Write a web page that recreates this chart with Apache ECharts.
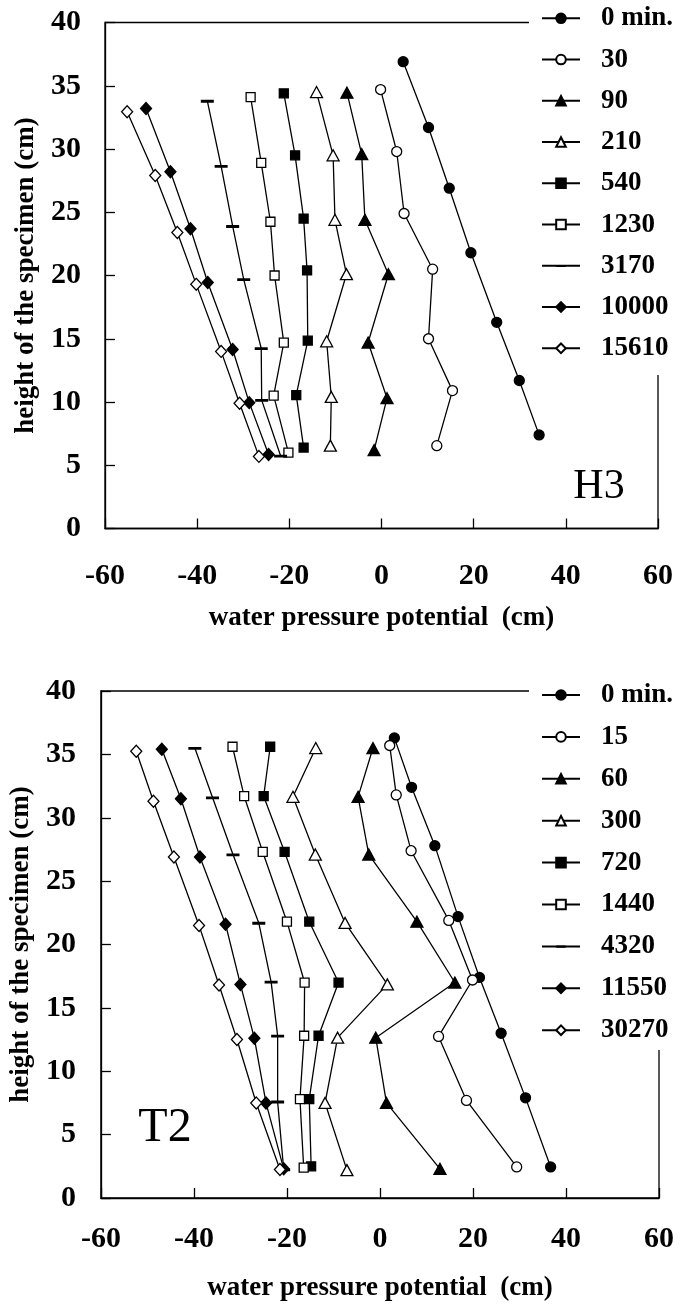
<!DOCTYPE html>
<html>
<head>
<meta charset="utf-8">
<title>Water pressure potential profiles</title>
<script src="https://cdn.jsdelivr.net/npm/echarts@6/dist/echarts.min.js"></script>
<style>
  html, body { margin: 0; padding: 0; background: #fff; }
  #chart { width: 682px; height: 1308px; }
</style>
</head>
<body>
<div id="chart"></div>
<script>
// Axis ranges shared by both panels
const xRange = { min: -60, max: 60, step: 20 };
const yRange = { min: 0, max: 40, step: 5 };
const xTitle = 'water pressure potential  (cm)';
const yTitle = 'height of the specimen (cm)';

// Specimen H3: elapsed time labels and [pressure potential, height] readings
const h3Names = ['0 min.', '30', '90', '210', '540', '1230', '3170', '10000', '15610'];
const h3_0 = [[4.7, 36.9], [10.2, 31.7], [14.7, 26.9], [19.4, 21.8], [25.0, 16.3], [29.9, 11.7], [34.2, 7.4]];
const h3_30 = [[-0.2, 34.7], [3.3, 29.8], [4.9, 24.9], [11.1, 20.5], [10.2, 15.0], [15.4, 10.9], [12.0, 6.55]];
const h3_90 = [[-7.5, 34.45], [-4.3, 29.6], [-3.6, 24.4], [1.5, 20.1], [-2.9, 14.7], [1.2, 10.3], [-1.6, 6.2]];
const h3_210 = [[-14.1, 34.5], [-10.5, 29.5], [-10.1, 24.4], [-7.6, 20.1], [-11.9, 14.8], [-10.9, 10.4], [-11.1, 6.55]];
const h3_540 = [[-21.2, 34.4], [-18.75, 29.5], [-16.9, 24.5], [-16.15, 20.4], [-16.0, 14.85], [-18.5, 10.55], [-16.9, 6.4]];
const h3_1230 = [[-28.4, 34.1], [-26.1, 28.9], [-24.1, 24.25], [-23.2, 20.0], [-21.2, 14.7], [-23.4, 10.5], [-20.2, 6.0]];
const h3_3170 = [[-37.8, 33.8], [-34.8, 28.65], [-32.3, 23.9], [-29.9, 19.7], [-26.1, 14.25], [-26.0, 10.15], [-21.9, 5.75]];
const h3_10000 = [[-51.1, 33.2], [-45.8, 28.2], [-41.45, 23.7], [-37.7, 19.45], [-32.3, 14.15], [-28.7, 9.95], [-24.5, 5.85]];
const h3_15610 = [[-55.2, 32.95], [-49.1, 27.9], [-44.3, 23.4], [-40.2, 19.3], [-34.8, 14.0], [-30.8, 9.9], [-26.6, 5.7]];

// Specimen T2
const t2Names = ['0 min.', '15', '60', '300', '720', '1440', '4320', '11550', '30270'];
const t2_0 = [[3.1, 36.3], [6.8, 32.4], [11.8, 27.8], [16.8, 22.2], [21.4, 17.4], [26.05, 13.0], [31.3, 7.9], [36.7, 2.45]];
const t2_15 = [[2.1, 35.7], [3.5, 31.8], [6.7, 27.4], [14.8, 21.9], [19.9, 17.2], [12.6, 12.75], [18.6, 7.7], [29.4, 2.45]];
const t2_60 = [[-1.5, 35.5], [-4.7, 31.65], [-2.4, 27.1], [7.95, 21.8], [16.1, 17.0], [-0.9, 12.65], [1.4, 7.5], [12.9, 2.3]];
const t2_300 = [[-13.8, 35.5], [-18.7, 31.65], [-13.9, 27.1], [-7.5, 21.7], [1.6, 16.85], [-9.1, 12.65], [-11.8, 7.5], [-7.1, 2.2]];
const t2_720 = [[-23.6, 35.6], [-25.0, 31.7], [-20.5, 27.3], [-15.2, 21.8], [-8.9, 17.0], [-13.2, 12.8], [-15.2, 7.8], [-14.8, 2.5]];
const t2_1440 = [[-31.7, 35.6], [-29.2, 31.7], [-25.2, 27.3], [-20.0, 21.8], [-16.2, 17.0], [-16.3, 12.8], [-17.2, 7.8], [-16.4, 2.4]];
const t2_4320 = [[-39.8, 35.5], [-36.0, 31.6], [-31.6, 27.1], [-26.05, 21.7], [-23.4, 17.05], [-22.0, 12.8], [-22.0, 7.6], [-20.7, 2.25]];
const t2_11550 = [[-46.9, 35.4], [-42.8, 31.5], [-38.7, 26.9], [-33.2, 21.6], [-30.0, 16.85], [-27.0, 12.6], [-24.5, 7.5], [-20.7, 2.3]];
const t2_30270 = [[-52.4, 35.25], [-48.7, 31.3], [-44.3, 26.9], [-38.9, 21.5], [-34.6, 16.8], [-30.75, 12.5], [-26.6, 7.5], [-21.5, 2.25]];

const h3Data = [h3_0, h3_30, h3_90, h3_210, h3_540, h3_1230, h3_3170, h3_10000, h3_15610];
const t2Data = [t2_0, t2_15, t2_60, t2_300, t2_720, t2_1440, t2_4320, t2_11550, t2_30270];

// Marker styles, in legend order: filled/open circle, triangle, square, dash, diamond
const DASH = 'path://M0,0L0,0.01M0,5L12,5L12,7.6L0,7.6ZM12,12L12,11.99';
const markers = [
  { symbol: 'circle', size: 10, fill: '#000' },
  { symbol: 'circle', size: 10, fill: '#fff' },
  { symbol: 'triangle', size: [12, 11], fill: '#000' },
  { symbol: 'triangle', size: [12, 11], fill: '#fff' },
  { symbol: 'rect', size: 9, fill: '#000' },
  { symbol: 'rect', size: 9, fill: '#fff' },
  { symbol: DASH, size: 13, fill: '#000', dash: true },
  { symbol: 'diamond', size: [11, 12], fill: '#000' },
  { symbol: 'diamond', size: [11, 12], fill: '#fff' }
];

const FONT = 'Liberation Serif';
const INK = '#000';

function xAxisFor(gridIndex, labelMargin, nameGap) {
  return {
    gridIndex, type: 'value', min: xRange.min, max: xRange.max, interval: xRange.step,
    axisLine: { show: true, onZero: false, lineStyle: { color: INK, width: 1.3 } },
    axisTick: { show: true, inside: true, length: 10, lineStyle: { color: INK, width: 1.3 } },
    splitLine: { show: false },
    axisLabel: { margin: labelMargin, color: INK, fontSize: 30, fontFamily: FONT, fontWeight: 'bold' },
    name: xTitle, nameLocation: 'middle', nameGap,
    nameTextStyle: { color: INK, fontSize: 27, fontFamily: FONT, fontWeight: 'bold' }
  };
}

function yAxisFor(gridIndex, labelMargin, nameGap) {
  return {
    gridIndex, type: 'value', min: yRange.min, max: yRange.max, interval: yRange.step,
    axisLine: { show: true, onZero: false, lineStyle: { color: INK, width: 1.3 } },
    axisTick: { show: true, inside: true, length: 10, lineStyle: { color: INK, width: 1.3 } },
    splitLine: { show: false },
    axisLabel: { margin: labelMargin, color: INK, fontSize: 30, fontFamily: FONT, fontWeight: 'bold' },
    name: yTitle, nameLocation: 'middle', nameGap,
    nameTextStyle: { color: INK, fontSize: 27, fontFamily: FONT, fontWeight: 'bold' }
  };
}

function seriesFor(names, dataSets, axisIndex) {
  return names.map((name, i) => {
    const m = markers[i];
    return {
      type: 'line', name, xAxisIndex: axisIndex, yAxisIndex: axisIndex,
      data: dataSets[i],
      symbol: m.symbol, symbolSize: m.size,
      showAllSymbol: true,
      lineStyle: { color: INK, width: 1.3 },
      itemStyle: { color: m.fill, borderColor: INK, borderWidth: m.dash ? 0 : 1.3 },
      emphasis: { disabled: true },
      z: 2
    };
  });
}

function legendFor(names, top, gap) {
  return {
    data: names, orient: 'vertical', left: 541, top, padding: 0,
    itemWidth: 38, itemHeight: 12, itemGap: gap,
    selectedMode: false, z: 4,
    textStyle: { color: INK, fontSize: 27, fontFamily: FONT, fontWeight: 'bold', lineHeight: 30, padding: [0, 0, 0, 16] }
  };
}

const option = {
  animation: false,
  backgroundColor: '#fff',
  grid: [
    { left: 105, top: 22.5, width: 553, height: 506, show: true, borderColor: INK, borderWidth: 1.3, backgroundColor: 'transparent' },
    { left: 97, top: 691, width: 562, height: 507, show: true, borderColor: INK, borderWidth: 1.3, backgroundColor: 'transparent' }
  ],
  xAxis: [xAxisFor(0, 33, 76), xAxisFor(1, 26, 77)],
  yAxis: [yAxisFor(0, 24, 65), yAxisFor(1, 25, 59)],
  legend: [legendFor(h3Names, 3.3, 11.25), legendFor(t2Names, 680, 11.9)],
  graphic: [
    // white panels behind the legends, breaking the plot frame
    { type: 'rect', z: 3, shape: { x: 529, y: 0, width: 153, height: 375 }, style: { fill: '#fff' } },
    { type: 'rect', z: 3, shape: { x: 529, y: 660, width: 153, height: 390 }, style: { fill: '#fff' } },
    { type: 'text', z: 5, x: 599, y: 487, style: { text: 'H3', font: '42px "Liberation Serif"', fill: INK, align: 'center', verticalAlign: 'middle' } },
    { type: 'text', z: 5, x: 165, y: 1128, style: { text: 'T2', font: '48px "Liberation Serif"', fill: INK, align: 'center', verticalAlign: 'middle' } }
  ],
  series: [...seriesFor(h3Names, h3Data, 0), ...seriesFor(t2Names, t2Data, 1)]
};

const chart = echarts.init(document.getElementById('chart'), null, { renderer: 'canvas' });
chart.setOption(option);
</script>
</body>
</html>
